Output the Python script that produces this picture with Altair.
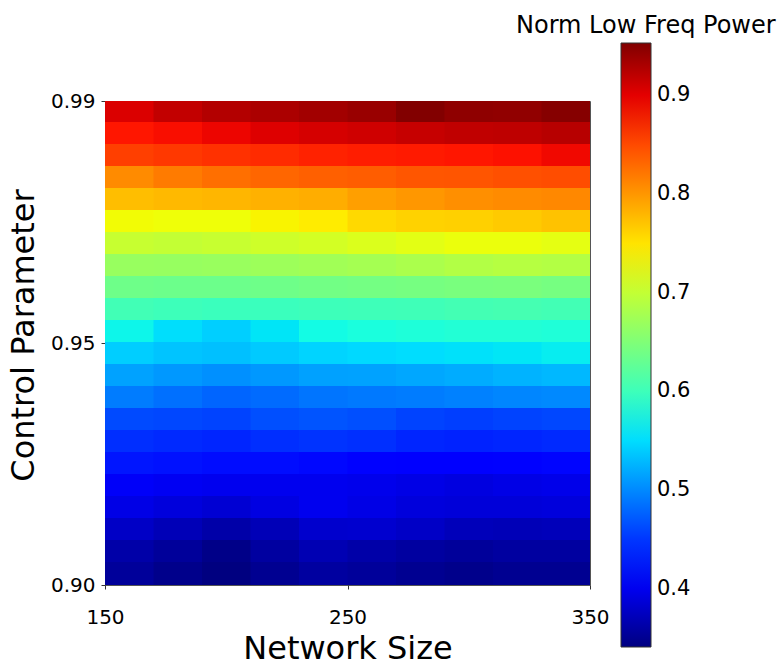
import altair as alt
import numpy as np
import pandas as pd

# Axis tick labels
network_size_ticks = [150, 250, 350]
control_labels = ["0.90", "0.95", "0.99"]
colorbar_ticks = [0.4, 0.5, 0.6, 0.7, 0.8, 0.9]
color_min, color_max = 0.341, 0.953

# Norm low freq power, rows from top (0.99) to bottom (0.90),
# columns from network size 150 (left) to 350 (right)
r00 = [0.905, 0.918, 0.926, 0.930, 0.935, 0.940, 0.952, 0.945, 0.944, 0.950]
r01 = [0.884, 0.889, 0.895, 0.903, 0.908, 0.911, 0.916, 0.919, 0.920, 0.924]
r02 = [0.857, 0.862, 0.866, 0.870, 0.876, 0.879, 0.881, 0.884, 0.887, 0.893]
r03 = [0.808, 0.818, 0.826, 0.832, 0.836, 0.838, 0.842, 0.843, 0.846, 0.848]
r04 = [0.775, 0.778, 0.780, 0.783, 0.786, 0.795, 0.800, 0.805, 0.808, 0.810]
r05 = [0.735, 0.733, 0.733, 0.740, 0.745, 0.757, 0.762, 0.763, 0.767, 0.772]
r06 = [0.703, 0.700, 0.703, 0.708, 0.712, 0.718, 0.724, 0.730, 0.730, 0.725]
r07 = [0.668, 0.667, 0.669, 0.672, 0.675, 0.678, 0.682, 0.687, 0.690, 0.688]
r08 = [0.637, 0.635, 0.635, 0.637, 0.640, 0.641, 0.643, 0.645, 0.646, 0.643]
r09 = [0.603, 0.600, 0.598, 0.598, 0.600, 0.601, 0.602, 0.605, 0.606, 0.604]
r10 = [0.565, 0.551, 0.542, 0.555, 0.569, 0.574, 0.577, 0.580, 0.580, 0.578]
r11 = [0.541, 0.535, 0.533, 0.539, 0.545, 0.548, 0.550, 0.553, 0.556, 0.560]
r12 = [0.515, 0.509, 0.504, 0.509, 0.514, 0.515, 0.518, 0.521, 0.525, 0.528]
r13 = [0.492, 0.485, 0.478, 0.482, 0.488, 0.490, 0.492, 0.495, 0.498, 0.500]
r14 = [0.462, 0.460, 0.458, 0.465, 0.468, 0.465, 0.458, 0.455, 0.458, 0.460]
r15 = [0.445, 0.442, 0.440, 0.445, 0.448, 0.446, 0.440, 0.438, 0.440, 0.442]
r16 = [0.430, 0.428, 0.425, 0.425, 0.422, 0.418, 0.412, 0.415, 0.418, 0.420]
r17 = [0.405, 0.402, 0.400, 0.400, 0.400, 0.398, 0.395, 0.392, 0.395, 0.397]
r18 = [0.395, 0.390, 0.385, 0.393, 0.400, 0.395, 0.390, 0.388, 0.388, 0.390]
r19 = [0.378, 0.370, 0.362, 0.370, 0.382, 0.383, 0.378, 0.372, 0.370, 0.372]
r20 = [0.362, 0.355, 0.345, 0.358, 0.368, 0.362, 0.358, 0.355, 0.358, 0.358]
r21 = [0.355, 0.347, 0.341, 0.350, 0.358, 0.355, 0.350, 0.347, 0.350, 0.350]
rows = [r00, r01, r02, r03, r04, r05, r06, r07, r08, r09, r10,
        r11, r12, r13, r14, r15, r16, r17, r18, r19, r20, r21]

n_rows = len(rows)
n_cols = len(rows[0])
xmin, xmax = network_size_ticks[0], network_size_ticks[-1]
cw = (xmax - xmin) / n_cols
overlap = 0.04  # tiny overlap between neighbouring cells to hide seams

recs = []
for r, row in enumerate(rows):
    for c, v in enumerate(row):
        yb = n_rows - 1 - r
        recs.append({"x0": xmin + c * cw,
                     "x1": min(xmax, xmin + (c + 1 + overlap) * cw),
                     "y0": yb, "y1": min(n_rows, yb + 1 + overlap), "value": v})
df = pd.DataFrame(recs)

# matplotlib "jet" colormap definition
jet_r = [(0, 0), (0.35, 0), (0.66, 1), (0.89, 1), (1, 0.5)]
jet_g = [(0, 0), (0.125, 0), (0.375, 1), (0.64, 1), (0.91, 0), (1, 0)]
jet_b = [(0, 0.5), (0.11, 1), (0.34, 1), (0.65, 0), (1, 0)]
stops = sorted(set([p for p, _ in jet_r + jet_g + jet_b]))


def chan(seg, t):
    return float(np.interp(t, [p for p, _ in seg], [v for _, v in seg]))


jet_colors = []
for t in stops:
    rgb = [int(round(255 * chan(s, t))) for s in (jet_r, jet_g, jet_b)]
    jet_colors.append("#%02x%02x%02x" % tuple(rgb))
jet_domain = [color_min + t * (color_max - color_min) for t in stops]

FONT = "DejaVu Sans"
mid = n_rows / 2
label_expr = (f"datum.value == 0 ? '{control_labels[0]}' : "
              f"datum.value == {mid} ? '{control_labels[1]}' : '{control_labels[2]}'")

chart = alt.Chart(df).mark_rect(strokeWidth=0).encode(
    x=alt.X("x0:Q",
            scale=alt.Scale(domain=[xmin, xmax], nice=False, zero=False),
            axis=alt.Axis(values=network_size_ticks, title="Network Size",
                          titleY=73, titleBaseline="alphabetic",
                          labelPadding=18, labelFlush=False)),
    x2="x1:Q",
    y=alt.Y("y0:Q",
            scale=alt.Scale(domain=[0, n_rows], nice=False, zero=False),
            axis=alt.Axis(values=[0, mid, n_rows], labelExpr=label_expr,
                          title="Control Parameter", titleX=-72, titleY=234,
                          titleBaseline="alphabetic", titleAngle=270,
                          labelPadding=6, labelFlush=False)),
    y2="y1:Q",
    color=alt.Color("value:Q",
                    scale=alt.Scale(domain=jet_domain, range=jet_colors, interpolate="rgb"),
                    legend=alt.Legend(type="gradient", title=None, orient="none",
                                      legendX=516, legendY=-58,
                                      direction="vertical", gradientLength=604,
                                      gradientThickness=30, values=colorbar_ticks,
                                      format=".1f", labelFontSize=21, labelFont=FONT,
                                      labelColor="black", labelOffset=6,
                                      gradientStrokeColor="#333", gradientStrokeWidth=1)),
).properties(
    width=485, height=484,
    background="white",
    title=alt.TitleParams("Norm Low Freq Power", anchor="start", frame="group",
                          dx=411, offset=0, dy=14, baseline="alphabetic",
                          fontSize=24, font=FONT, fontWeight="normal", color="black"),
    autosize=alt.AutoSizeParams(type="none"),
    padding={"left": 105, "top": 101, "right": 189, "bottom": 80},
).configure_view(
    stroke="#555", strokeWidth=1
).configure_axis(
    domain=False, grid=False, tickSize=4, tickColor="#333",
    labelFont=FONT, labelFontSize=20, labelColor="black",
    titleFont=FONT, titleFontSize=32, titleFontWeight="normal", titleColor="black",
)

chart.save("out.html", embed_options={"renderer": "svg", "actions": False})
